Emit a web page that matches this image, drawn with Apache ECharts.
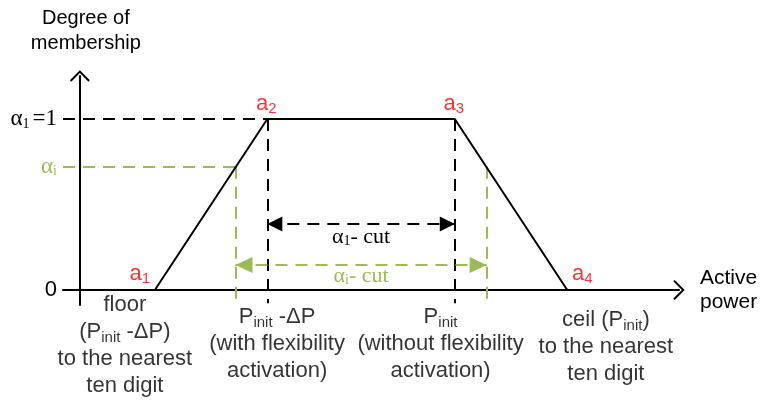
<!DOCTYPE html>
<html><head><meta charset="utf-8">
<script src="https://cdn.jsdelivr.net/npm/echarts@6/dist/echarts.min.js"></script>
<style>html,body{margin:0;padding:0;background:#fff}#c{width:765px;height:400px}</style>
</head><body><div id="c"></div>
<script>
// ---- data ----
const vertexSub = ['1', '2', '3', '4'];
const vertexX = [20, 50, 100, 130];
const vertexY = [0, 1, 1, 0];
const alphaSub = ['1', 'i'];
const alphaLevel = [1, 0.72];
const cutLeftX = [50, 41.5];
const cutRightX = [100, 108.5];
const cutArrowY = [0.386, 0.146];
const yTickValues = [0, 0.72, 1];
const xRange = [-4.5, 159.8];
const yRange = [-0.088, 1.251];
const guideBottom = -0.078;
const noteX = [12, 52.6, 96.2, 140.3];
const noteY = [-0.009, -0.079, -0.079, -0.096];
const noteText = [
  'floor\n(P{s|init} -ΔP)\nto the nearest\nten digit',
  'P{s|init} -ΔP\n(with flexibility\nactivation)',
  'P{s|init}\n(without flexibility\nactivation)',
  'ceil (P{s|init})\nto the nearest\nten digit'
];
const yAxisTitle = 'Degree of\nmembership';
const xAxisTitle = 'Active\npower';

// ---- styles ----
const BLACK = '#000000';
const GREEN = '#9BBB59';
const RED = '#FF0000';
const SANS = 'Liberation Sans';
const SERIF = 'Liberation Serif';
const lineColors = [BLACK, GREEN];
const dash = [12, 8];
const chevron = 'path://M0,0 L10,10 L8.6,11.4 L0,2.8 L-8.6,11.4 L-10,10 Z';
// triangle whose tip sits at the symbol centre (a tiny invisible point extends the box)
const tipTriangle = 'path://M0,0 L8,16 L-8,16 Z M0,-16 L0.001,-16 L0,-15.999 Z';

const chart = echarts.init(document.getElementById('c'), null, {renderer: 'canvas'});

const sansSub = {fontFamily: SANS, fontSize: 15, lineHeight: 15, verticalAlign: 'bottom'};

const series = [];
// trapezoid membership function
series.push({
  type: 'line', name: 'membership', z: 5, silent: true,
  data: vertexX.map((x, i) => [x, vertexY[i]]),
  showSymbol: false, symbol: 'none',
  lineStyle: {color: BLACK, width: 2},
  label: {show: false}
});
// vertex labels a1..a4
const vertexOffsets = [[-15, -16], [-1, -15], [-1, -15], [15, -16]];
series.push({
  type: 'scatter', name: 'vertices', silent: true, clip: false, z: 6,
  symbolSize: 0.1, itemStyle: {color: 'transparent'},
  data: vertexX.map((x, i) => ({
    value: [x, vertexY[i]],
    label: {offset: vertexOffsets[i]}
  })),
  label: {
    show: true, position: 'inside', color: RED,
    fontFamily: SANS, fontSize: 22, lineHeight: 24,
    formatter: p => 'a{s|' + vertexSub[p.dataIndex] + '}',
    rich: {s: Object.assign({}, sansSub, {color: RED, lineHeight: 12})}
  }
});
// alpha guides and cuts
alphaLevel.forEach((lvl, k) => {
  const col = lineColors[k];
  series.push({
    type: 'line', name: 'guide' + k, silent: true, data: [], z: 3,
    markLine: {
      silent: true, symbol: 'none', animation: false,
      lineStyle: {color: col, width: 2, type: dash},
      label: {show: false},
      emphasis: {disabled: true},
      data: [
        [{coord: [xRange[0], lvl]}, {coord: [cutLeftX[k], lvl]}],
        [{coord: [cutLeftX[k], lvl]}, {coord: [cutLeftX[k], guideBottom]}],
        [{coord: [cutRightX[k], lvl]}, {coord: [cutRightX[k], guideBottom]}]
      ]
    }
  });
  series.push({
    type: 'line', name: 'cut' + k, silent: true, data: [], z: 3,
    markLine: {
      silent: true, animation: false,
      symbol: [tipTriangle, tipTriangle],
      symbolSize: k === 0 ? [15, 30] : [16, 34],
      lineStyle: {color: col, width: 2, type: dash},
      itemStyle: {color: col},
      emphasis: {disabled: true},
      label: {
        show: true, position: 'insideMiddleBottom', distance: k === 0 ? 2 : 0,
        color: col, fontFamily: SERIF, fontSize: 22, lineHeight: 22,
        formatter: () => 'α{s|' + alphaSub[k] + '}- cut',
        rich: {s: {fontFamily: SERIF, fontSize: 14, lineHeight: 12, verticalAlign: 'bottom', color: col}}
      },
      data: [
        [{coord: [cutLeftX[k], cutArrowY[k]]}, {coord: [cutRightX[k], cutArrowY[k]]}]
      ]
    }
  });
});
// bottom annotations
series.push({
  type: 'scatter', name: 'notes', silent: true, clip: false,
  symbolSize: 0.1, itemStyle: {color: 'transparent'},
  data: noteX.map((x, i) => [x, noteY[i]]),
  label: {
    show: true, position: 'bottom', distance: 0,
    color: BLACK, fontFamily: SANS, fontSize: 22, lineHeight: 27, align: 'center',
    formatter: p => noteText[p.dataIndex],
    rich: {s: Object.assign({}, sansSub, {color: BLACK})}
  }
});

const yLabelFmt = v => {
  if (v === 0) return '{z|0}';
  if (v === 1) return '{a|α}{s|1}{a|=1}';
  return '{g|α}{gs|i}';
};

chart.setOption({
  animation: false,
  backgroundColor: '#ffffff',
  grid: {left: 63, right: 86, top: 76, bottom: 95, containLabel: false},
  xAxis: {
    type: 'value', min: xRange[0], max: xRange[1],
    axisLine: {show: true, onZero: true, symbol: ['none', chevron], symbolSize: [20, 11.4],
      lineStyle: {color: BLACK, width: 2}},
    axisTick: {show: false}, axisLabel: {show: false}, splitLine: {show: false},
    name: xAxisTitle, nameLocation: 'end', nameGap: 21,
    nameTextStyle: {color: BLACK, fontFamily: SANS, fontSize: 21, lineHeight: 24, align: 'left', verticalAlign: 'middle'}
  },
  yAxis: {
    type: 'value', min: yRange[0], max: yRange[1],
    axisLine: {show: true, onZero: true, symbol: ['none', chevron], symbolSize: [20, 11.4],
      lineStyle: {color: BLACK, width: 2}},
    axisTick: {show: false}, splitLine: {show: false},
    axisLabel: {
      show: true, customValues: yTickValues, margin: 6,
      formatter: yLabelFmt,
      rich: {
        z: {fontFamily: SANS, fontSize: 22, color: BLACK, lineHeight: 24},
        a: {fontFamily: SERIF, fontSize: 23, color: BLACK, lineHeight: 24},
        s: {fontFamily: SERIF, fontSize: 14, color: BLACK, lineHeight: 12, verticalAlign: 'bottom', padding: [0, 3, 0, 0]},
        g: {fontFamily: SERIF, fontSize: 23, color: GREEN, lineHeight: 24},
        gs: {fontFamily: SERIF, fontSize: 14, color: GREEN, lineHeight: 12, verticalAlign: 'bottom'}
      }
    },
    name: yAxisTitle, nameLocation: 'end', nameGap: 20,
    nameTextStyle: {color: BLACK, fontFamily: SANS, fontSize: 20, lineHeight: 25, align: 'center', padding: [0, 0, 0, 12]}
  },
  series: series
});
</script>
</body></html>
